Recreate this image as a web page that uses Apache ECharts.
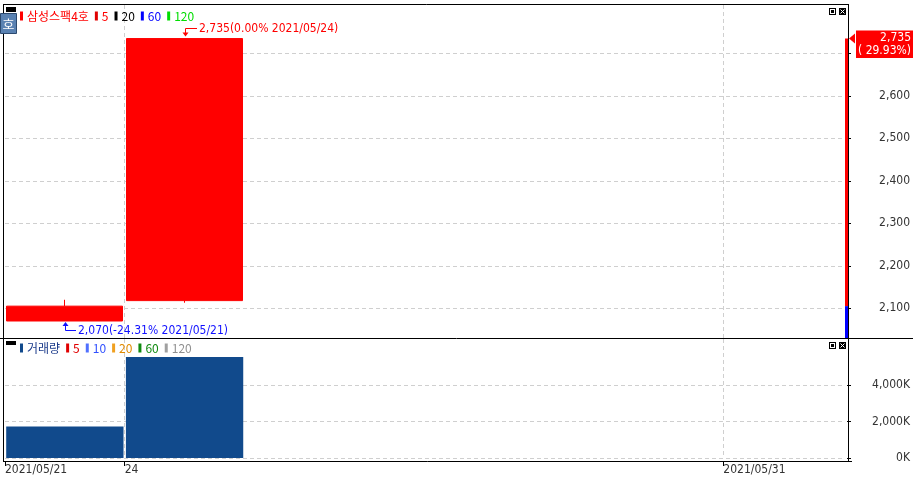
<!DOCTYPE html>
<html><head><meta charset="utf-8">
<script src="https://cdn.jsdelivr.net/npm/echarts@6/dist/echarts.min.js"></script>
<style>html,body{margin:0;padding:0;background:#fff;overflow:hidden}#c{width:913px;height:478px}</style>
</head><body><div id="c"></div>
<script>
// ---------- data ----------
const categories = ['2021/05/21','2021/05/24','2021/05/25','2021/05/26','2021/05/27','2021/05/28','2021/05/31'];
const xTickLabels = ['2021/05/21','24','','','','','2021/05/31',''];
// [open, close, low, high]
const ohlc = [[2070, 2105, 2070, 2120], [2118, 2735, 2113, 2735]];
const volume = [1727000, 5519000];
const priceTicks = [2100, 2200, 2300, 2400, 2500, 2600, 2700];
const priceLabelTicks = [2100, 2200, 2300, 2400, 2500, 2600];
const volumeTicks = [0, 2000000, 4000000];
const lastPrice = 2735, prevClose = 2105, changePct = '29.93%';
const highMark = {index: 1, value: 2735, text: '2,735(0.00% 2021/05/24)'};
const lowMark = {index: 0, value: 2070, text: '2,070(-24.31% 2021/05/21)'};
const legendTop = [
  {name: '삼성스팩4호', color: '#ff0000', bar: '#ff0000'},
  {name: '5', color: '#ff0000', bar: '#e00000'},
  {name: '20', color: '#000000', bar: '#000000'},
  {name: '60', color: '#0000ff', bar: '#0000ff'},
  {name: '120', color: '#00dd00', bar: '#00dd00'}
];
const legendBottom = [
  {name: '거래량', color: '#1a3a8a', bar: '#114a8c'},
  {name: '5', color: '#e00000', bar: '#e00000'},
  {name: '10', color: '#3050ff', bar: '#5070ff'},
  {name: '20', color: '#e08a00', bar: '#f0a020'},
  {name: '60', color: '#108a10', bar: '#108a10'},
  {name: '120', color: '#909090', bar: '#a0a0a0'}
];

// ---------- style ----------
const NUMFONT = "'DejaVu Sans Condensed','Liberation Sans Narrow',Roboto,sans-serif";
const KRFONT = "'Noto Sans CJK KR','Noto Sans',sans-serif";
const GRIDCOLOR = '#cfcfcf';
const fmt = v => Number(v).toLocaleString('en-US');

const chart = echarts.init(document.getElementById('c'));
const splitDash = {show: true, lineStyle: {color: GRIDCOLOR, type: [4, 3], width: 1}};
const labelInterval = (i, v) => v !== '';
const splitInterval = (i, v) => i > 0 && v !== '';

chart.setOption({
  animation: false,
  backgroundColor: '#ffffff',
  grid: [
    {left: 5, right: 69, top: 5, height: 333},
    {left: 5, right: 69, top: 339, height: 119}
  ],
  xAxis: [
    {type: 'category', gridIndex: 0, position: 'top', data: categories, show: false},
    {type: 'category', gridIndex: 0, position: 'bottom', data: xTickLabels, boundaryGap: false,
     axisLine: {show: false}, axisTick: {show: false}, axisLabel: {show: false},
     splitLine: Object.assign({interval: splitInterval}, splitDash)},
    {type: 'category', gridIndex: 1, position: 'top', data: categories, show: false},
    {type: 'category', gridIndex: 1, position: 'bottom', data: xTickLabels, boundaryGap: false, offset: 3,
     axisLine: {show: false},
     axisTick: {show: true, interval: labelInterval, length: 5, lineStyle: {color: '#000'}},
     axisLabel: {show: true, interval: labelInterval, align: 'left', margin: 3,
                 color: '#333', fontSize: 12, fontFamily: NUMFONT},
     splitLine: Object.assign({interval: splitInterval}, splitDash)}
  ],
  yAxis: [
    {type: 'value', gridIndex: 0, position: 'right', offset: 4, min: 2030, max: 2814,
     axisLine: {show: false},
     axisTick: {show: true, customValues: priceTicks, length: 4, lineStyle: {color: '#000'}},
     axisLabel: {customValues: priceLabelTicks, formatter: v => fmt(v), align: 'right', margin: 63,
                 color: '#333', fontSize: 12, fontFamily: NUMFONT},
     splitLine: splitDash},
    {type: 'value', gridIndex: 1, position: 'right', offset: 4, min: 0, max: 6500000,
     axisLine: {show: false},
     axisTick: {show: true, customValues: volumeTicks, length: 4, lineStyle: {color: '#000'}},
     axisLabel: {customValues: volumeTicks, formatter: v => fmt(v / 1000) + 'K', align: 'right', margin: 63,
                 color: '#333', fontSize: 12, fontFamily: NUMFONT},
     splitLine: splitDash}
  ],
  series: [
    {type: 'candlestick', xAxisIndex: 0, yAxisIndex: 0, data: ohlc, barWidth: '97.5%', silent: true,
     itemStyle: {color: '#ff0000', color0: '#0000ff', borderColor: '#ff0000', borderColor0: '#0000ff', borderWidth: 1}},
    {type: 'bar', xAxisIndex: 2, yAxisIndex: 1, data: volume, barWidth: '98%', silent: true,
     itemStyle: {color: '#114a8c'}}
  ]
});

// ---------- decorations & annotations (positions through the chart's own scales) ----------
const mctx = document.createElement('canvas').getContext('2d');
function textW(t, font) { mctx.font = font; return mctx.measureText(t).width; }
function txt(x, y, t, color, font, align) {
  return {type: 'text', z: 100, silent: true, style: {x, y, text: t, fill: color, font,
    align: align || 'left', verticalAlign: 'middle', textAlign: align || 'left', textVerticalAlign: 'middle'}};
}
function line(x1, y1, x2, y2, color) {
  return {type: 'line', z: 100, silent: true, shape: {x1, y1, x2, y2}, style: {stroke: color || '#000', lineWidth: 1}};
}
function rect(x, y, w, h, fill, stroke) {
  return {type: 'rect', z: 100, silent: true, shape: {x, y, width: w, height: h},
    style: {fill: fill, stroke: stroke || null, lineWidth: 1}};
}
function legend(items, x0, yc) {
  const out = [];
  let x = x0;
  const font = '12px ' + KRFONT;
  items.forEach(it => {
    out.push(rect(x, yc - 4.5, 3, 9, it.bar));
    x += 7;
    out.push(txt(x, yc, it.name, it.color, font));
    x += textW(it.name, font) + 6;
  });
  return out;
}
function icons(x, y) {
  return [
    rect(x, y, 7, 7, '#000'), rect(x + 1, y + 1, 5, 5, '#fff'), rect(x + 2, y + 2, 3, 3, '#000'),
    rect(x + 10, y, 7, 7, '#000'),
    line(x + 11.5, y + 1.5, x + 15.5, y + 5.5, '#fff'), line(x + 15.5, y + 1.5, x + 11.5, y + 5.5, '#fff')
  ];
}

const g = [];
// frame
g.push(line(4, 4.5, 848.5, 4.5));
g.push(line(3.5, 4, 3.5, 462));
g.push(line(848.5, 4, 848.5, 462));
g.push(line(0, 338.5, 913, 338.5));
g.push(line(3.5, 461.5, 852, 461.5));
// corner icons
g.push(rect(6, 7, 10, 5, '#000'));
g.push(rect(6, 341, 10, 4, '#000'));
g.push(rect(0.5, 13.5, 16, 20, '#5a82b2', '#2c4a70'));
g.push(txt(8.5, 24, '호', '#ffffff', '13px ' + KRFONT, 'center'));
g.push(...icons(829, 8));
g.push(...icons(829, 342));
// legends
g.push(...legend(legendTop, 20, 16));
g.push(...legend(legendBottom, 20, 348));

// high / low annotations
const NUM = '12px ' + NUMFONT;
{
  const cx = Math.round(chart.convertToPixel({xAxisIndex: 0}, categories[highMark.index]));
  const py = chart.convertToPixel({yAxisIndex: 0}, highMark.value);
  const ey = Math.round(py - 11) + 0.5;
  g.push({type: 'polyline', z: 100, silent: true, shape: {points: [[cx + 0.5, py - 4], [cx + 0.5, ey], [cx + 12, ey]]},
          style: {stroke: '#ff0000', lineWidth: 1, fill: null}});
  g.push({type: 'polygon', z: 100, silent: true, shape: {points: [[cx - 2.5, py - 6], [cx + 3.5, py - 6], [cx + 0.5, py - 2]]},
          style: {fill: '#ff0000'}});
  g.push(txt(cx + 14, ey, highMark.text, '#ff0000', NUM));
}
{
  const cx = Math.round(chart.convertToPixel({xAxisIndex: 0}, categories[lowMark.index]));
  const py = chart.convertToPixel({yAxisIndex: 0}, lowMark.value);
  const ey = Math.round(py + 9) + 0.5;
  g.push({type: 'polyline', z: 100, silent: true, shape: {points: [[cx + 0.5, py + 4], [cx + 0.5, ey], [cx + 11, ey]]},
          style: {stroke: '#1010ff', lineWidth: 1, fill: null}});
  g.push({type: 'polygon', z: 100, silent: true, shape: {points: [[cx - 2.5, py + 5], [cx + 3.5, py + 5], [cx + 0.5, py + 1]]},
          style: {fill: '#1010ff'}});
  g.push(txt(cx + 13, ey, lowMark.text, '#1010ff', NUM));
}
// right-side price indicator
{
  const pLast = chart.convertToPixel({yAxisIndex: 0}, lastPrice);
  const pPrev = chart.convertToPixel({yAxisIndex: 0}, prevClose);
  const pBot = chart.convertToPixel({yAxisIndex: 0}, 2030);
  g.push(rect(845, pLast, 3, pPrev - pLast, '#ff0000'));
  g.push(rect(845, pPrev, 3, pBot - pPrev, '#0000ff'));
  g.push({type: 'polygon', z: 101, silent: true, shape: {points: [[849, pLast], [855, pLast - 5], [855, pLast + 5]]},
          style: {fill: '#ff0000'}});
  g.push(Object.assign(rect(856, pLast - 8, 57, 27.5, '#ff0000'), {z: 101}));
  g.push(Object.assign(txt(911, pLast - 1, fmt(lastPrice), '#ffffff', NUM, 'right'), {z: 102}));
  g.push(Object.assign(txt(911, pLast + 12.5, '( ' + changePct + ')', '#ffffff', NUM, 'right'), {z: 102}));
}
chart.setOption({graphic: g});
</script>
</body></html>
